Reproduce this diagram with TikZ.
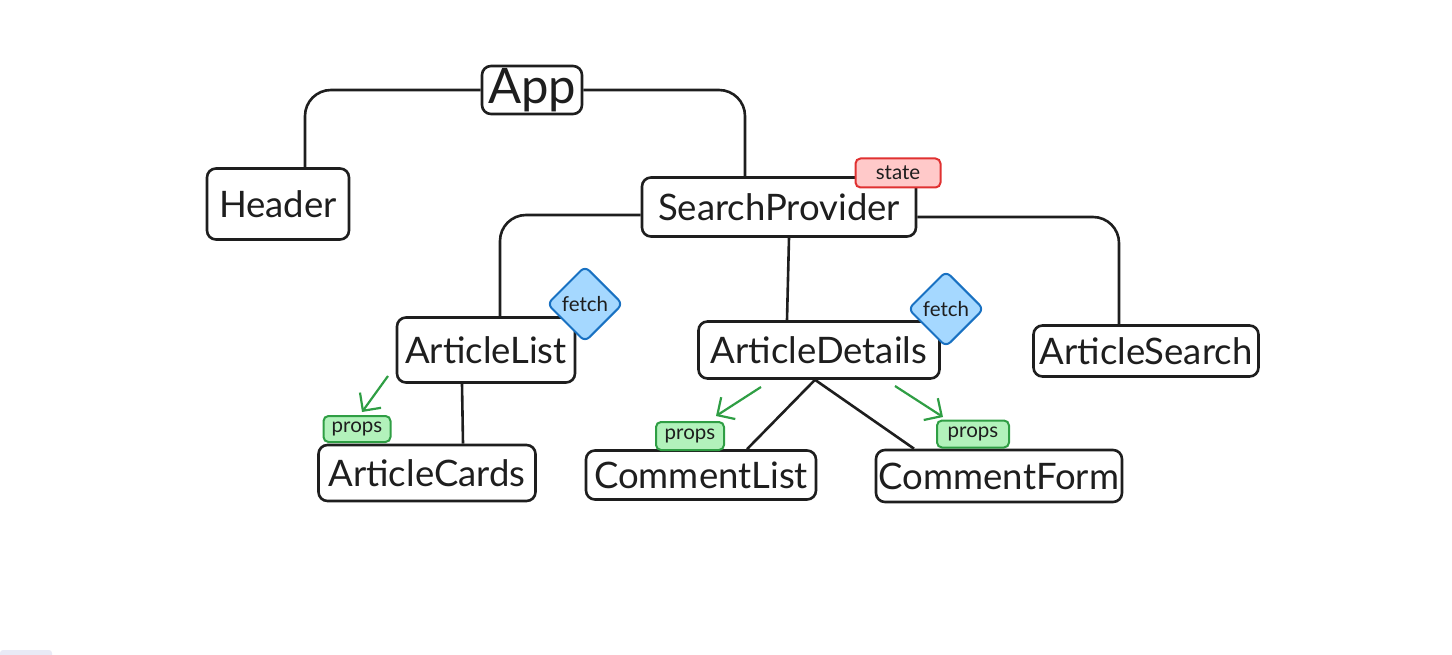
\documentclass[tikz,border=0pt]{standalone}
\usepackage{fontspec}
\setmainfont{Lato}
\usetikzlibrary{shapes.geometric,arrows.meta}

\definecolor{ink}{HTML}{1E1E1E}
\definecolor{propsfill}{HTML}{B2F2BB}
\definecolor{propsline}{HTML}{2F9E44}
\definecolor{fetchfill}{HTML}{A5D8FF}
\definecolor{fetchline}{HTML}{1971C2}
\definecolor{statefill}{HTML}{FFC9C9}
\definecolor{stateline}{HTML}{E03131}
\definecolor{barfill}{HTML}{E9EAF6}

\tikzset{
  comp/.style={draw=ink, line width=2.6pt, rounded corners=9pt, fill=white,
    inner sep=0pt, text=ink, font=\fontsize{36.5}{42}\selectfont},
  link/.style={draw=ink, line width=2.6pt, rounded corners=26pt},
  tagbox/.style={line width=2pt, rounded corners=5pt, inner sep=0pt,
    text=ink, font=\fontsize{20.5}{24}\selectfont},
  propstag/.style={tagbox, draw=propsline, fill=propsfill},
  statetag/.style={tagbox, draw=stateline, fill=statefill},
  fetchtag/.style={tagbox, shape=diamond, draw=fetchline, fill=fetchfill,
    minimum width=76, minimum height=76, rounded corners=6pt},
  passing/.style={draw=propsline, line width=2.2pt,
    -{Straight Barb[length=13pt,width=26pt,line width=2.2pt]}},
}

\begin{document}
\begin{tikzpicture}[x=1pt, y=-1pt]
  \useasboundingbox (0,0) rectangle (1452,655);
  % components
  \node[comp, minimum width=100, minimum height=48, font=\fontsize{49}{54}\selectfont] (App) at (532,90) {App};
  \node[comp, minimum width=142, minimum height=71] (Header) at (278,204) {Header};
  \node[comp, minimum width=274, minimum height=59] (SearchProvider) at (779,207) {SearchProvider};
  \node[comp, minimum width=178, minimum height=65] (ArticleList) at (486,350) {ArticleList};
  \node[comp, minimum width=241, minimum height=57] (ArticleDetails) at (819,350) {ArticleDetails};
  \node[comp, minimum width=225, minimum height=51] (ArticleSearch) at (1146,351) {ArticleSearch};
  \node[comp, minimum width=217, minimum height=56] (ArticleCards) at (427,473) {ArticleCards};
  \node[comp, minimum width=230, minimum height=49] (CommentList) at (701,475) {CommentList};
  \node[comp, minimum width=246, minimum height=52] (CommentForm) at (999,476) {CommentForm};

  % tree links
  \draw[link] (App.west) -| ([xshift=27]Header.north);
  \draw[link] (App.east) -| ([xshift=-34]SearchProvider.north);
  \draw[link] ([yshift=-8]SearchProvider.west) -| ([xshift=14]ArticleList.north);
  \draw[link] ([xshift=10]SearchProvider.south) -- ([xshift=-32]ArticleDetails.north);
  \draw[link] ([yshift=-10]SearchProvider.east) -| ([xshift=-27]ArticleSearch.north);
  \draw[link] ([xshift=-24]ArticleList.south) -- ([xshift=36]ArticleCards.north);
  \draw[link] ([xshift=-4]ArticleDetails.south) -- ([xshift=46]CommentList.north);
  \draw[link] ([xshift=-4]ArticleDetails.south) -- ([xshift=-85]CommentForm.north);

  % tags
  \node[statetag, minimum width=85, minimum height=29] (State) at (898,173) {state};
  \node[fetchtag] (FetchList) at (585,304) {fetch};
  \node[fetchtag] (FetchDetails) at (946,309) {fetch};
  \node[propstag, minimum width=67, minimum height=26] (PropsCards) at (357,429) {props};
  \node[propstag, minimum width=68, minimum height=28] (PropsList) at (690,436) {props};
  \node[propstag, minimum width=72, minimum height=27] (PropsForm) at (973,434) {props};

  % props arrows
  \coordinate (pa1) at (388,376);
  \coordinate (pa2) at (362,412);
  \coordinate (pb1) at (761,387);
  \coordinate (pb2) at (716,416);
  \coordinate (pc1) at (895,386);
  \coordinate (pc2) at (943,417);
  \draw[passing] (pa1) -- (pa2);
  \draw[passing] (pb1) -- (pb2);
  \draw[passing] (pc1) -- (pc2);

  \fill[barfill, rounded corners=3pt] (0,650) rectangle (52,658);
\end{tikzpicture}
\end{document}
